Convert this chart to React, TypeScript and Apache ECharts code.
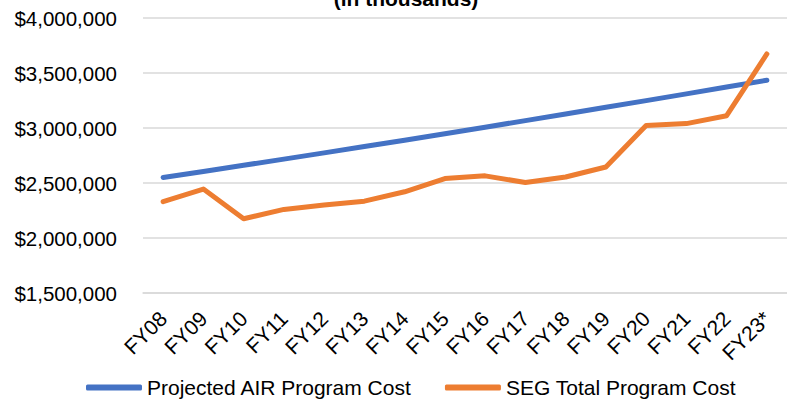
import React, { useEffect, useRef } from "react";
import * as echarts from "echarts";

const categories = ["FY08", "FY09", "FY10", "FY11", "FY12", "FY13", "FY14", "FY15", "FY16", "FY17", "FY18", "FY19", "FY20", "FY21", "FY22", "FY23*"];
const projectedAir = [2550000, 2605000, 2661000, 2717000, 2774000, 2831000, 2889000, 2948000, 3007000, 3067000, 3127000, 3188000, 3249000, 3310000, 3372000, 3434000];
const segTotal = [2330000, 2445000, 2175000, 2260000, 2300000, 2335000, 2420000, 2540000, 2565000, 2505000, 2555000, 2645000, 3022000, 3040000, 3112000, 3673000];
const seriesNames = ["Projected AIR Program Cost", "SEG Total Program Cost"];
const titleText = "(in thousands)";

const FONT = "'Liberation Sans', Arial, Helvetica, sans-serif";

function fmt(v: number): string {
  return "$" + Math.round(v).toString().replace(/\B(?=(\d{3})+(?!\d))/g, ",");
}

export default function App() {
  const ref = useRef<HTMLDivElement>(null);
  useEffect(() => {
    if (!ref.current) return;
    const chart = echarts.init(ref.current, undefined, { renderer: "svg" });
    chart.setOption({
      animation: false,
      backgroundColor: "#ffffff",
      textStyle: { fontFamily: FONT },
      graphic: [
        {
          type: "text",
          x: 406,
          y: 9,
          style: {
            text: titleText,
            font: `bold 21px ${FONT}`,
            fill: "#000000",
            textAlign: "center",
            textVerticalAlign: "bottom",
          },
        },
      ],
      legend: {
        left: 81,
        top: 372,
        itemWidth: 56,
        itemHeight: 6,
        itemGap: 33,
        icon: "roundRect",
        textStyle: { fontSize: 21, color: "#000000", fontFamily: FONT },
        data: seriesNames,
      },
      grid: { left: 143, top: 18, width: 654, height: 275 },
      xAxis: {
        type: "category",
        data: categories,
        boundaryGap: true,
        axisTick: { show: false },
        axisLine: { show: true, lineStyle: { color: "#d9d9d9", width: 1.5 } },
        axisLabel: { rotate: 45, fontSize: 21, color: "#000000", margin: 22, interval: 0, fontFamily: FONT },
      },
      yAxis: {
        type: "value",
        min: 1500000,
        max: 4000000,
        interval: 500000,
        axisLine: { show: false },
        axisTick: { show: false },
        splitLine: { lineStyle: { color: "#d9d9d9", width: 1.5 } },
        axisLabel: { fontSize: 20.5, color: "#000000", margin: 26, formatter: (v: number) => fmt(v), fontFamily: FONT },
      },
      series: [
        {
          name: seriesNames[0],
          type: "line",
          data: projectedAir,
          showSymbol: false,
          symbol: "none",
          itemStyle: { color: "#4472C4" },
          lineStyle: { color: "#4472C4", width: 5, cap: "round", join: "round" },
        },
        {
          name: seriesNames[1],
          type: "line",
          data: segTotal,
          showSymbol: false,
          symbol: "none",
          itemStyle: { color: "#ED7D31" },
          lineStyle: { color: "#ED7D31", width: 5, cap: "round", join: "round" },
        },
      ],
    });
    return () => chart.dispose();
  }, []);
  return (
    <div
      ref={ref}
      style={{ position: "fixed", left: 0, top: 0, width: 787, height: 400, overflow: "hidden" }}
    />
  );
}
